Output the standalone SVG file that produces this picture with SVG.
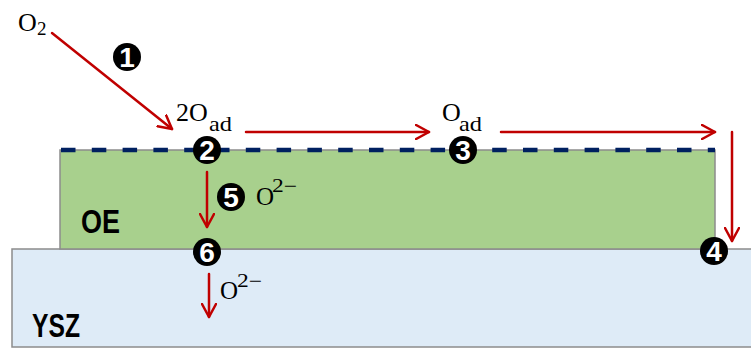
<svg xmlns="http://www.w3.org/2000/svg" width="751" height="349" viewBox="0 0 751 349">
<style>
.layer{stroke:#8c8c8c;stroke-width:1.5}
.arr{stroke:#c00000;stroke-width:2.5;fill:none;stroke-linecap:round;stroke-linejoin:round}
.chem{font-family:"Liberation Serif","DejaVu Serif",serif;fill:#000}
.lbl{font-family:"Liberation Sans",Arial,sans-serif;font-weight:bold;font-size:34px;fill:#000}
.num circle{fill:#000}
.num text{font-family:"Liberation Sans",Arial,sans-serif;font-weight:bold;font-size:28px;fill:#fff;text-anchor:middle}
</style>
<defs>
<marker id="ah" viewBox="0 0 16 16" refX="14" refY="8" markerWidth="16" markerHeight="16" markerUnits="userSpaceOnUse" orient="auto">
<path d="M1,1 L14,8 L1,15" fill="none" stroke="#c00000" stroke-width="2.5" stroke-linecap="round" stroke-linejoin="round"/>
</marker>
</defs>
<rect width="751" height="349" fill="#fff"/>
<g id="YSZ">
<rect class="layer" x="12" y="249" width="745" height="98" fill="#deebf7"/>
<text class="lbl" x="32" y="337" textLength="48" lengthAdjust="spacingAndGlyphs">YSZ</text>
</g>
<g id="OE">
<rect class="layer" x="60" y="150" width="655" height="99" fill="#a8d08d"/>
<text class="lbl" x="81" y="233" textLength="39" lengthAdjust="spacingAndGlyphs">OE</text>
</g>
<g id="surface">
<line x1="61" y1="150" x2="715" y2="150" stroke="#002060" stroke-width="4.5" stroke-dasharray="14.5 16.3"/>
</g>
<g id="connectors">
<line class="arr" x1="52" y1="33" x2="172" y2="129" marker-end="url(#ah)"/>
<line class="arr" x1="246" y1="132" x2="429" y2="132" marker-end="url(#ah)"/>
<line class="arr" x1="501" y1="132" x2="715" y2="132" marker-end="url(#ah)"/>
<line class="arr" x1="732" y1="132" x2="732" y2="241" marker-end="url(#ah)"/>
<line class="arr" x1="207" y1="172" x2="207" y2="227" marker-end="url(#ah)"/>
<line class="arr" x1="209" y1="274" x2="209" y2="317" marker-end="url(#ah)"/>
</g>
<g id="labels">
<text class="chem" x="18" y="31" font-size="26">O</text>
<text class="chem" x="37" y="35" font-size="19">2</text>
<text class="chem" x="176" y="121" font-size="26">2O</text>
<text class="chem" x="209" y="131" font-size="21" textLength="23" lengthAdjust="spacingAndGlyphs">ad</text>
<text class="chem" x="442" y="121" font-size="26">O</text>
<text class="chem" x="459" y="131" font-size="21" textLength="23" lengthAdjust="spacingAndGlyphs">ad</text>
<text class="chem" x="256" y="205" font-size="25">O</text>
<text class="chem" x="272" y="192" font-size="18" textLength="25" lengthAdjust="spacingAndGlyphs">2−</text>
<text class="chem" x="220" y="299" font-size="25">O</text>
<text class="chem" x="237" y="287" font-size="18" textLength="25" lengthAdjust="spacingAndGlyphs">2−</text>
</g>
<g id="n1" class="num"><circle cx="127" cy="57" r="14"/><text x="127" y="67">1</text></g>
<g id="n2" class="num"><circle cx="207" cy="150" r="14"/><text x="207" y="160">2</text></g>
<g id="n3" class="num"><circle cx="463" cy="150" r="14"/><text x="463" y="160">3</text></g>
<g id="n4" class="num"><circle cx="714" cy="251" r="14"/><text x="714" y="261">4</text></g>
<g id="n5" class="num"><circle cx="231" cy="197" r="14"/><text x="231" y="207">5</text></g>
<g id="n6" class="num"><circle cx="207" cy="252" r="14"/><text x="207" y="262">6</text></g>
</svg>
